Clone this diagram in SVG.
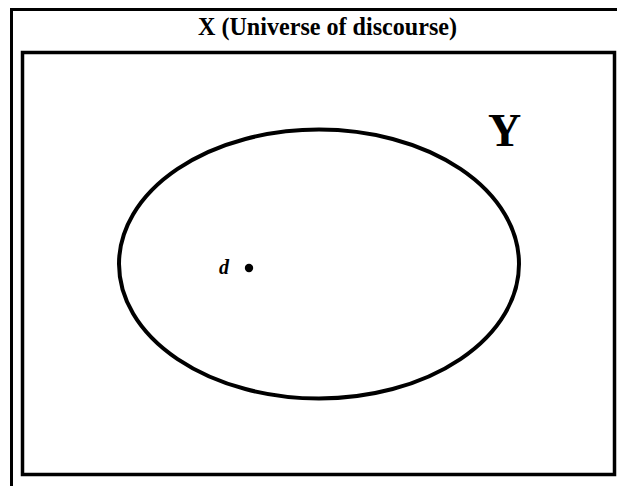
<svg xmlns="http://www.w3.org/2000/svg" width="617" height="486" viewBox="0 0 617 486">
  <style>
    .frame { fill: none; stroke: #000; }
    .lbl { font-family: "Liberation Serif", "Times New Roman", serif; font-weight: bold; fill: #000; }
  </style>
  <rect x="0" y="0" width="617" height="486" fill="#fff"/>
  <g id="universe">
    <rect class="frame" x="11.5" y="9.5" width="620" height="490" stroke-width="3"/>
    <text class="lbl" x="198" y="35" font-size="25" textLength="259" lengthAdjust="spacingAndGlyphs">X (Universe of discourse)</text>
    <rect class="frame" x="22.5" y="52.5" width="592" height="422" stroke-width="3.5"/>
  </g>
  <g id="setY">
    <ellipse class="frame" cx="319" cy="264" rx="200" ry="134.5" stroke-width="4"/>
    <text class="lbl" x="488" y="146" font-size="46">Y</text>
  </g>
  <g id="elementD">
    <text class="lbl" x="219" y="274" font-size="20" font-style="italic">d</text>
    <circle cx="249" cy="268" r="4.2" fill="#000"/>
  </g>
</svg>
